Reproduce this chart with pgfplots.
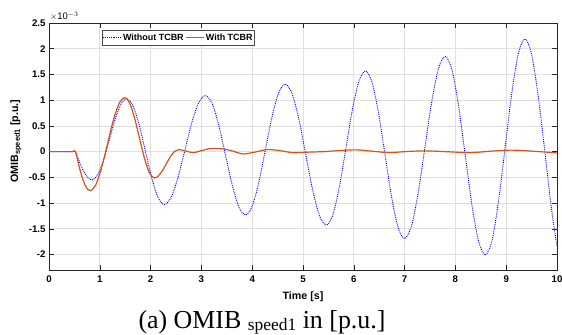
\documentclass[border=0pt]{standalone}
\usepackage{pgfplots}
\pgfplotsset{compat=1.18}
\usepackage{fontspec}
\setmainfont{Liberation Sans}
\newfontfamily\serif{Liberation Serif}
\definecolor{mblue}{rgb}{0,0,1}
\definecolor{morange}{rgb}{0.85,0.325,0.098}
\begin{document}
\begin{tikzpicture}
\path[use as bounding box] (-49bp,-65bp) rectangle (513bp,270bp);
\begin{axis}[
  scale only axis, width=508bp, height=247bp,
  at={(0,0)}, anchor=south west,
  xmin=0, xmax=10, ymin=-2.3, ymax=2.5,
  xtick={0,1,...,10},
  ytick={-2,-1.5,-1,-0.5,0,0.5,1,1.5,2,2.5},
  yticklabels={-2,-1.5,-1,-0.5,0,0.5,1,1.5,2,2.5},
  /pgf/number format/assume math mode=true,
  tick label style={font=\fontsize{9.7}{11}\selectfont\bfseries},
  xticklabel style={yshift=-2bp},
  axis line style={black!85, line width=0.7bp},
  tick style={black!85, line width=0.6bp},
  major tick length=5bp,
  grid=major,
  major grid style={black!12, line width=0.8bp},
  xlabel={Time [s]},
  ylabel={OMIB\textsubscript{speed1} [p.u.]},
  label style={font=\fontsize{10.7}{12}\selectfont\bfseries},
  xlabel style={at={(axis description cs:0.5,0)}, anchor=center, yshift=-27bp},
  ylabel style={at={(axis description cs:-0.065,0.522)}, anchor=center},
  legend columns=2,
  legend image code/.code={\draw[#1] (0bp,0bp) -- (18bp,0bp);},
  legend style={at={(rel axis cs:0.104,0.972)}, anchor=north west,
    draw=black!70, fill=white, line width=0.6bp,
    font=\fontsize{9}{10}\selectfont\bfseries,
    inner xsep=0.5bp, inner ysep=1.5bp,
    nodes={inner xsep=1.5bp, inner ysep=2bp}},
  legend cell align=left,
]
\addplot[mblue, line width=0.9bp, densely dotted, smooth] coordinates {
(0,0) (0.45,0) (0.52,0) (0.63,-0.275) (0.74,-0.476) (0.85,-0.55) (0.963,-0.444) (1.077,-0.155) (1.19,0.24) (1.303,0.635) (1.417,0.924) (1.53,1.03) (1.653,0.892) (1.777,0.515) (1.9,0) (2.023,-0.515) (2.147,-0.892) (2.27,-1.03) (2.405,-0.888) (2.54,-0.50) (2.675,0.03) (2.81,0.56) (2.945,0.948) (3.08,1.09) (3.212,0.935) (3.343,0.51) (3.475,-0.07) (3.607,-0.65) (3.738,-1.075) (3.87,-1.23) (4.0,-1.06) (4.13,-0.595) (4.26,0.04) (4.39,0.675) (4.52,1.14) (4.65,1.31) (4.785,1.126) (4.92,0.625) (5.055,-0.06) (5.19,-0.745) (5.325,-1.246) (5.46,-1.43) (5.588,-1.229) (5.717,-0.68) (5.845,0.07) (5.973,0.82) (6.102,1.369) (6.23,1.57) (6.358,1.352) (6.487,0.755) (6.615,-0.06) (6.743,-0.875) (6.872,-1.472) (7.0,-1.69) (7.133,-1.453) (7.267,-0.805) (7.4,0.08) (7.533,0.965) (7.667,1.613) (7.8,1.85) (7.932,1.591) (8.063,0.885) (8.195,-0.08) (8.327,-1.045) (8.458,-1.751) (8.59,-2.01) (8.72,-1.729) (8.85,-0.96) (8.98,0.09) (9.11,1.14) (9.24,1.909) (9.37,2.19) (9.5,1.89) (9.63,1.08) (9.76,0) (9.89,-1.1) (10,-1.84)
};
\addlegendentry{Without TCBR}
\addplot[morange, line width=1.2bp, smooth] coordinates {
(0,0) (0.45,0) (0.52,0) (0.617,-0.38) (0.713,-0.658) (0.81,-0.76) (0.923,-0.639) (1.037,-0.3075) (1.15,0.145) (1.263,0.5975) (1.377,0.929) (1.49,1.05) (1.587,0.945) (1.683,0.66) (1.78,0.27) (1.877,-0.12) (1.973,-0.405) (2.07,-0.51) (2.15,-0.473) (2.23,-0.3725) (2.31,-0.235) (2.39,-0.0975) (2.47,0.003) (2.55,0.04) (2.70,0.01) (2.84,-0.02) (3.0,0.02) (3.17,0.06) (3.3,0.06) (3.45,0.05) (3.62,0.01) (3.82,-0.045) (4.05,-0.01) (4.3,0.04) (4.55,0.02) (4.8,-0.02) (5.1,-0.01) (5.4,0.0) (5.7,0.02) (6.05,0.035) (6.35,0.01) (6.7,-0.02) (7.0,0.0) (7.4,0.015) (7.8,0.0) (8.3,-0.02) (8.7,0.01) (9.1,0.03) (9.5,0.01) (10,-0.025)
};
\addlegendentry{With TCBR}
\end{axis}
\node[anchor=south west, inner sep=0pt, font=\fontsize{9.5}{10}\selectfont] at (1bp,249bp) {$\times$10$^{-3}$};
\node[anchor=base, inner sep=0pt] at (213bp,-58bp) {\serif\fontsize{26}{28}\selectfont (a) OMIB \raisebox{-2bp}{\fontsize{17.5}{20}\selectfont speed1} in [p.u.]};
\end{tikzpicture}
\end{document}
